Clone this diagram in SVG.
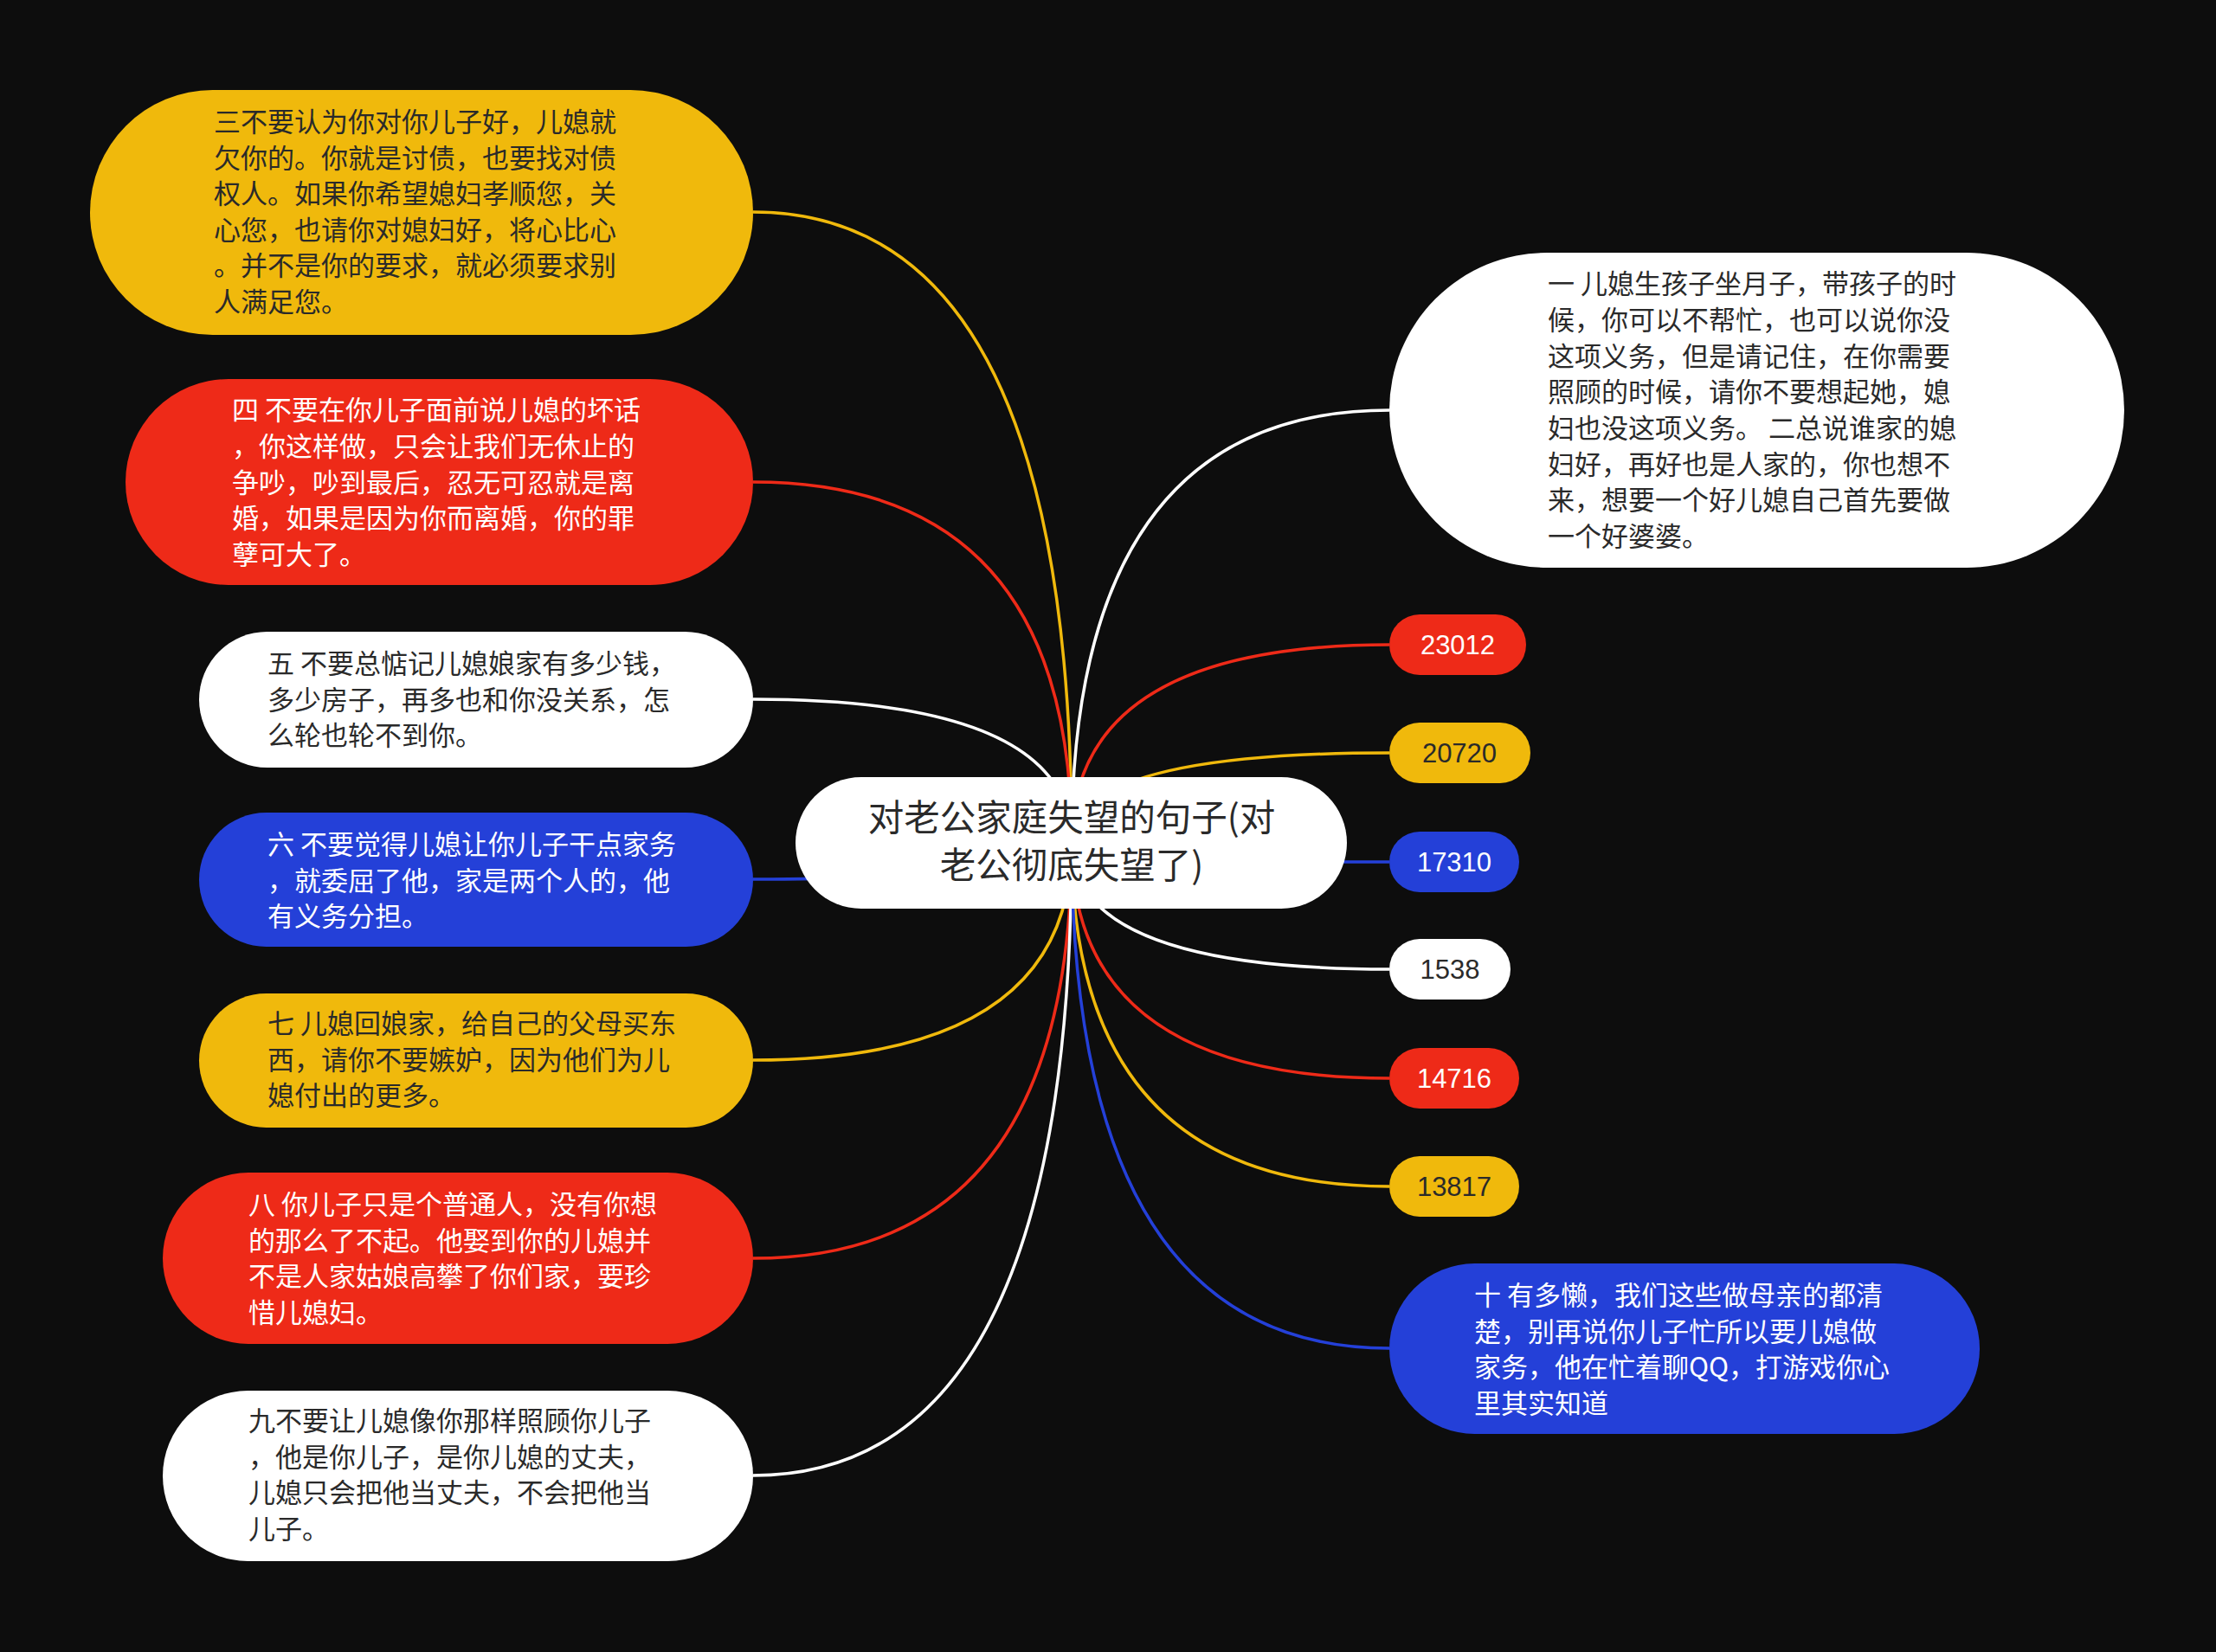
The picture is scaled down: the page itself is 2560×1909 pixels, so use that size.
<svg xmlns="http://www.w3.org/2000/svg" width="2560" height="1909" viewBox="0 0 2560 1909">
<style>
.t{font-family:"Noto Sans CJK SC","Noto Sans",sans-serif;font-size:31px}
.n{font-family:"Liberation Sans","Noto Sans",sans-serif;font-size:31px;text-anchor:middle}
.dk{fill:#2a2a2a}.wt{fill:#ffffff}
.y{fill:#F0B90C}.r{fill:#EE2A18}.b{fill:#2440D8}.w{fill:#ffffff}
.c{fill:none;stroke-width:3.5}
</style>
<rect width="2560" height="1909" fill="#0d0d0d"/>
<g id="connectors">
<path class="c" stroke="#F0B90C" d="M1238,974 Q1238,245 870,245"/>
<path class="c" stroke="#EE2A18" d="M1238,974 Q1238,557 870,557"/>
<path class="c" stroke="#ffffff" d="M1238,974 Q1238,808 870,808"/>
<path class="c" stroke="#2440D8" d="M1238,974 Q1238,1016 870,1016"/>
<path class="c" stroke="#F0B90C" d="M1238,974 Q1238,1225 870,1225"/>
<path class="c" stroke="#EE2A18" d="M1238,974 Q1238,1454 870,1454"/>
<path class="c" stroke="#ffffff" d="M1238,974 Q1238,1705 870,1705"/>
<path class="c" stroke="#ffffff" d="M1238,974 Q1238,474 1605,474"/>
<path class="c" stroke="#EE2A18" d="M1238,974 Q1238,745 1605,745"/>
<path class="c" stroke="#F0B90C" d="M1238,974 Q1238,870 1605,870"/>
<path class="c" stroke="#2440D8" d="M1238,974 Q1238,996 1605,996"/>
<path class="c" stroke="#ffffff" d="M1238,974 Q1238,1120 1605,1120"/>
<path class="c" stroke="#EE2A18" d="M1238,974 Q1238,1246 1605,1246"/>
<path class="c" stroke="#F0B90C" d="M1238,974 Q1238,1371 1605,1371"/>
<path class="c" stroke="#2440D8" d="M1238,974 Q1238,1558 1605,1558"/>
</g>
<g id="center">
<rect x="919" y="898" width="637" height="152" rx="76" class="w"/>
<text class="t dk" style="font-size:41.5px" text-anchor="middle"><tspan x="1238" y="960">对老公家庭失望的句子(对</tspan><tspan x="1238" y="1015">老公彻底失望了)</tspan></text>
</g>
<g id="n3">
<rect x="104" y="104" width="766" height="283" rx="141.5" class="y"/>
<text class="t dk"><tspan x="247" y="152">三不要认为你对你儿子好，儿媳就</tspan><tspan x="247" y="194">欠你的。你就是讨债，也要找对债</tspan><tspan x="247" y="235">权人。如果你希望媳妇孝顺您，关</tspan><tspan x="247" y="277">心您，也请你对媳妇好，将心比心</tspan><tspan x="247" y="318">。并不是你的要求，就必须要求别</tspan><tspan x="247" y="360">人满足您。</tspan></text>
</g>
<g id="n4">
<rect x="145" y="438" width="725" height="238" rx="119" class="r"/>
<text class="t wt"><tspan x="268" y="485">四 不要在你儿子面前说儿媳的坏话</tspan><tspan x="268" y="527">，你这样做，只会让我们无休止的</tspan><tspan x="268" y="569">争吵，吵到最后，忍无可忍就是离</tspan><tspan x="268" y="610">婚，如果是因为你而离婚，你的罪</tspan><tspan x="268" y="652">孽可大了。</tspan></text>
</g>
<g id="n5">
<rect x="230" y="730" width="640" height="157" rx="78.5" class="w"/>
<text class="t dk"><tspan x="309" y="778">五 不要总惦记儿媳娘家有多少钱，</tspan><tspan x="309" y="820">多少房子，再多也和你没关系，怎</tspan><tspan x="309" y="861">么轮也轮不到你。</tspan></text>
</g>
<g id="n6">
<rect x="230" y="939" width="640" height="155" rx="77.5" class="b"/>
<text class="t wt"><tspan x="309" y="987">六 不要觉得儿媳让你儿子干点家务</tspan><tspan x="309" y="1029">，就委屈了他，家是两个人的，他</tspan><tspan x="309" y="1070">有义务分担。</tspan></text>
</g>
<g id="n7">
<rect x="230" y="1148" width="640" height="155" rx="77.5" class="y"/>
<text class="t dk"><tspan x="309" y="1194">七 儿媳回娘家，给自己的父母买东</tspan><tspan x="309" y="1236">西，请你不要嫉妒，因为他们为儿</tspan><tspan x="309" y="1277">媳付出的更多。</tspan></text>
</g>
<g id="n8">
<rect x="188" y="1355" width="682" height="198" rx="99" class="r"/>
<text class="t wt"><tspan x="287" y="1403">八 你儿子只是个普通人，没有你想</tspan><tspan x="287" y="1445">的那么了不起。他娶到你的儿媳并</tspan><tspan x="287" y="1486">不是人家姑娘高攀了你们家，要珍</tspan><tspan x="287" y="1528">惜儿媳妇。</tspan></text>
</g>
<g id="n9">
<rect x="188" y="1607" width="682" height="197" rx="98.5" class="w"/>
<text class="t dk"><tspan x="287" y="1653">九不要让儿媳像你那样照顾你儿子</tspan><tspan x="287" y="1695">，他是你儿子，是你儿媳的丈夫，</tspan><tspan x="287" y="1736">儿媳只会把他当丈夫，不会把他当</tspan><tspan x="287" y="1778">儿子。</tspan></text>
</g>
<g id="n1">
<rect x="1605" y="292" width="849" height="364" rx="182" class="w"/>
<text class="t dk"><tspan x="1788" y="339">一 儿媳生孩子坐月子，带孩子的时</tspan><tspan x="1788" y="381">候，你可以不帮忙，也可以说你没</tspan><tspan x="1788" y="423">这项义务，但是请记住，在你需要</tspan><tspan x="1788" y="464">照顾的时候，请你不要想起她，媳</tspan><tspan x="1788" y="506">妇也没这项义务。 二总说谁家的媳</tspan><tspan x="1788" y="548">妇好，再好也是人家的，你也想不</tspan><tspan x="1788" y="589">来，想要一个好儿媳自己首先要做</tspan><tspan x="1788" y="631">一个好婆婆。</tspan></text>
</g>
<g id="num1"><rect x="1605" y="710" width="158" height="70" rx="35" class="r"/><text class="n wt" x="1684" y="756">23012</text></g>
<g id="num2"><rect x="1605" y="835" width="163" height="70" rx="35" class="y"/><text class="n dk" x="1686" y="881">20720</text></g>
<g id="num3"><rect x="1605" y="961" width="150" height="70" rx="35" class="b"/><text class="n wt" x="1680" y="1007">17310</text></g>
<g id="num4"><rect x="1605" y="1085" width="140" height="70" rx="35" class="w"/><text class="n dk" x="1675" y="1131">1538</text></g>
<g id="num5"><rect x="1605" y="1211" width="150" height="70" rx="35" class="r"/><text class="n wt" x="1680" y="1257">14716</text></g>
<g id="num6"><rect x="1605" y="1336" width="150" height="70" rx="35" class="y"/><text class="n dk" x="1680" y="1382">13817</text></g>
<g id="n10">
<rect x="1605" y="1460" width="682" height="197" rx="98.5" class="b"/>
<text class="t wt"><tspan x="1703" y="1508">十 有多懒，我们这些做母亲的都清</tspan><tspan x="1703" y="1550">楚，别再说你儿子忙所以要儿媳做</tspan><tspan x="1703" y="1591">家务，他在忙着聊QQ，打游戏你心</tspan><tspan x="1703" y="1633">里其实知道</tspan></text>
</g>
</svg>
